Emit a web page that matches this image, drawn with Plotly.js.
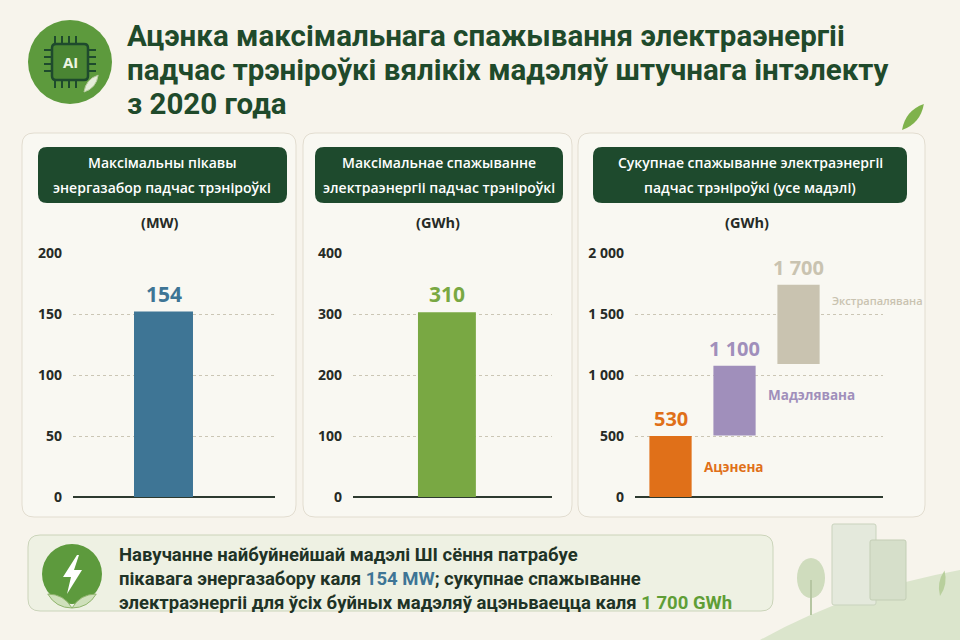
<!DOCTYPE html>
<html>
<head>
<meta charset="utf-8">
<script src="https://cdn.plot.ly/plotly-3.0.1.min.js"></script>
<style>
  html, body { margin: 0; padding: 0; background: #f7f4ec; }
  #chart { width: 960px; height: 640px; }
</style>
</head>
<body>
<div id="chart"></div>
<script>
// ---- data ----
const powerCats = ['Пікавы энергазабор'];
const powerValues = [152];
const powerLabels = ['154'];
const powerTicks = [0, 50, 100, 150, 200];

const energyCats = ['Спажыванне'];
const energyValues = [303];
const energyLabels = ['310'];
const energyTicks = [0, 100, 200, 300, 400];

const totalCats = ['Ацэнена', 'Мадэлявана', 'Экстрапалявана'];
const totalBase = [0, 505, 1090];
const totalTop = [500, 1075, 1740];
const totalLabels = ['530', '1 100', '1 700'];
const totalTicks = [0, 500, 1000, 1500, 2000];
const totalTickText = ['0', '500', '1 000', '1 500', '2 000'];

const titleLines = [
  'Ацэнка максімальнага спажывання электраэнергіі',
  'падчас трэніроўкі вялікіх мадэляў штучнага інтэлекту',
  'з 2020 года'
];
const panelHeads = [
  ['Максімальны пікавы', 'энергазабор падчас трэніроўкі'],
  ['Максімальнае спажыванне', 'электраэнергіі падчас трэніроўкі'],
  ['Сукупнае спажыванне электраэнергіі', 'падчас трэніроўкі (усе мадэлі)']
];
const panelUnits = ['(MW)', '(GWh)', '(GWh)'];

// ---- helpers: pixel -> paper ----
const W = 960, H = 640;
const px = x => x / W;
const py = y => 1 - y / H;

function rrect(x0, y0, x1, y1, r) {
  const p = (x, y) => px(x) + ',' + py(y);
  return 'M' + p(x0 + r, y0) + ' L' + p(x1 - r, y0) + ' Q' + p(x1, y0) + ' ' + p(x1, y0 + r) +
    ' L' + p(x1, y1 - r) + ' Q' + p(x1, y1) + ' ' + p(x1 - r, y1) +
    ' L' + p(x0 + r, y1) + ' Q' + p(x0, y1) + ' ' + p(x0, y1 - r) +
    ' L' + p(x0, y0 + r) + ' Q' + p(x0, y0) + ' ' + p(x0 + r, y0) + ' Z';
}
function poly(pts) {
  return 'M' + pts.map(q => px(q[0]) + ',' + py(q[1])).join(' L') + ' Z';
}
function leaf(cx, cy, len, wid, ang) {
  // simple leaf: two quadratic curves
  const a = ang * Math.PI / 180;
  const tx = cx + Math.cos(a) * len, ty = cy - Math.sin(a) * len;
  const nx = -Math.sin(a) * wid, ny = -Math.cos(a) * wid;
  const mx = (cx + tx) / 2, my = (cy + ty) / 2;
  const p = (x, y) => px(x) + ',' + py(y);
  return 'M' + p(cx, cy) + ' Q' + p(mx + nx, my + ny) + ' ' + p(tx, ty) +
    ' Q' + p(mx - nx, my - ny) + ' ' + p(cx, cy) + ' Z';
}

const DARK = '#1e4a2d';
const TXT = '#262b26';
const ORANGE = '#e07019', PURPLE = '#a08fbb', BEIGE = '#c9c3b0';
const BLUE = '#3e7595', GREEN = '#79a843';
const FONT = 'Open Sans, sans-serif';
const COND = 'Roboto, sans-serif';

// ---- traces ----
const traces = [
  {
    type: 'bar', x: [0], y: powerValues, width: 0.292, name: powerCats[0],
    marker: { color: BLUE }, xaxis: 'x', yaxis: 'y', hoverinfo: 'y'
  },
  {
    type: 'bar', x: [0], y: energyValues, width: 0.291, name: energyCats[0],
    marker: { color: GREEN }, xaxis: 'x2', yaxis: 'y2', hoverinfo: 'y'
  },
  {
    type: 'bar', x: totalCats.map((c, i) => i),
    y: totalTop.map((t, i) => t - totalBase[i]), base: totalBase,
    width: 0.66, text: totalCats, textposition: 'none',
    marker: { color: [ORANGE, PURPLE, BEIGE] }, xaxis: 'x3', yaxis: 'y3', hoverinfo: 'text+y'
  }
];

function yax(domain, range, vals, text) {
  return {
    domain: domain, range: range, tickvals: vals, ticktext: text || vals.map(String),
    showgrid: true, gridcolor: '#cbc6b5', griddash: 'dot', gridwidth: 1,
    zeroline: true, zerolinecolor: '#2d3a2f', zerolinewidth: 2,
    showline: false, ticks: '', ticklabelstandoff: 10, fixedrange: true,
    tickfont: { family: FONT, size: 14, color: TXT, weight: 700 }
  };
}
function xax(domain, range, anchor) {
  return {
    domain: domain, range: range, anchor: anchor, visible: false, fixedrange: true
  };
}
const yDom = [py(497), py(253)];

// ---- annotations ----
const ann = [];
titleLines.forEach((t, i) => ann.push({
  xref: 'paper', yref: 'paper', x: px(125), y: py(36 + i * 34), xanchor: 'left', yanchor: 'middle',
  text: t, showarrow: false, font: { family: COND, size: 29.5, color: '#1f4a2b', weight: 700 }
}));
const headCx = [162, 439, 750];
panelHeads.forEach((lines, k) => {
  lines.forEach((t, i) => ann.push({
    xref: 'paper', yref: 'paper', x: px(headCx[k]), y: py(163 + i * 24), xanchor: 'center', yanchor: 'middle',
    text: t, showarrow: false, font: { family: FONT, size: 14, color: '#ffffff', weight: 600 }
  }));
});
const unitCx = [160, 438, 747];
panelUnits.forEach((t, k) => ann.push({
  xref: 'paper', yref: 'paper', x: px(unitCx[k]), y: py(222), xanchor: 'center', yanchor: 'middle',
  text: t, showarrow: false, font: { family: FONT, size: 14.5, color: TXT, weight: 700 }
}));
// value labels
ann.push({ xref: 'x', yref: 'y', x: 0, y: powerValues[0], yanchor: 'bottom', yshift: 2,
  text: powerLabels[0], showarrow: false, font: { family: FONT, size: 21, color: BLUE, weight: 700 } });
ann.push({ xref: 'x2', yref: 'y2', x: 0, y: energyValues[0], yanchor: 'bottom', yshift: 2,
  text: energyLabels[0], showarrow: false, font: { family: FONT, size: 21, color: GREEN, weight: 700 } });
const totColors = [ORANGE, PURPLE, BEIGE];
const catShift = [0, 6, 24];
const catSize = [13.5, 13.5, 11];
const catWeight = [700, 700, 600];
totalCats.forEach((c, i) => {
  ann.push({ xref: 'x3', yref: 'y3', x: i, y: totalTop[i], yanchor: 'bottom', yshift: 2,
    text: totalLabels[i], showarrow: false, font: { family: FONT, size: 20, color: totColors[i], weight: 700 } });
  ann.push({ xref: 'x3', yref: 'y3', x: i + 0.33, y: (totalBase[i] + totalTop[i]) / 2,
    xanchor: 'left', yanchor: 'middle', xshift: 10, yshift: catShift[i],
    text: c, showarrow: false, font: { family: FONT, size: catSize[i], color: totColors[i], weight: catWeight[i] } });
});
// callout text
const callLines = [
  'Навучанне найбуйнейшай мадэлі ШІ сёння патрабуе',
  'пікавага энергазабору каля <span style="color:' + BLUE + '">' + powerLabels[0] + ' MW</span>; сукупнае спажыванне',
  'электраэнергіі для ўсіх буйных мадэляў ацэньваецца каля <span style="color:#5f9e36">' + totalLabels[2] + ' GWh</span>'
];
callLines.forEach((t, i) => ann.push({
  xref: 'paper', yref: 'paper', x: px(117), y: py(555 + i * 24), xanchor: 'left', yanchor: 'middle',
  text: t, showarrow: false, font: { family: COND, size: 18.5, color: '#1f3326', weight: 700 }
}));
// AI text in icon
ann.push({ xref: 'paper', yref: 'paper', x: px(70), y: py(62), xanchor: 'center', yanchor: 'middle',
  text: 'AI', showarrow: false, font: { family: FONT, size: 15, color: '#eef5e4', weight: 700 } });

// ---- decorative shapes ----
const shapes = [];
const panelsX = [[22, 296], [303, 572], [578, 925]];
panelsX.forEach(p => shapes.push({ type: 'path', xref: 'paper', yref: 'paper', layer: 'below',
  path: rrect(p[0], 133, p[1], 517, 12), fillcolor: '#f9f8f2', line: { color: '#e2ddd0', width: 1 } }));
const headX = [[38, 287], [315, 563], [593, 907]];
headX.forEach(p => shapes.push({ type: 'path', xref: 'paper', yref: 'paper', layer: 'below',
  path: rrect(p[0], 147, p[1], 203, 9), fillcolor: DARK, line: { width: 0 } }));
// callout box
shapes.push({ type: 'path', xref: 'paper', yref: 'paper', layer: 'below',
  path: rrect(28, 535, 773, 611, 12), fillcolor: '#eef1e3', line: { color: '#cbd4ba', width: 1 } });
// title icon
shapes.push({ type: 'circle', xref: 'paper', yref: 'paper', layer: 'below',
  x0: px(28), x1: px(112), y0: py(104), y1: py(20), fillcolor: '#5d9a3d', line: { width: 0 } });
shapes.push({ type: 'path', xref: 'paper', yref: 'paper', layer: 'below',
  path: rrect(52, 44, 88, 80, 4), fillcolor: '#4a8533', line: { color: '#1e4a2d', width: 2.5 } });
[50, 57, 64, 71].forEach(o => {
  shapes.push({ type: 'line', xref: 'paper', yref: 'paper', layer: 'below', x0: px(44), x1: px(52), y0: py(o), y1: py(o), line: { color: '#1e4a2d', width: 2 } });
  shapes.push({ type: 'line', xref: 'paper', yref: 'paper', layer: 'below', x0: px(88), x1: px(96), y0: py(o), y1: py(o), line: { color: '#1e4a2d', width: 2 } });
});
[58, 65, 72, 79].forEach(o => {
  shapes.push({ type: 'line', xref: 'paper', yref: 'paper', layer: 'below', x0: px(o - 3), x1: px(o - 3), y0: py(36), y1: py(44), line: { color: '#1e4a2d', width: 2 } });
  shapes.push({ type: 'line', xref: 'paper', yref: 'paper', layer: 'below', x0: px(o - 3), x1: px(o - 3), y0: py(80), y1: py(88), line: { color: '#1e4a2d', width: 2 } });
});
shapes.push({ type: 'path', xref: 'paper', yref: 'paper', path: leaf(84, 92, 22, 7, 50), fillcolor: '#e6eedb', line: { color: '#b8cca0', width: 1 } });
// top-right leaf
shapes.push({ type: 'path', xref: 'paper', yref: 'paper', layer: 'below', path: leaf(902, 130, 34, 10, 50), fillcolor: '#7fb24c', line: { width: 0 } });
// callout icon
shapes.push({ type: 'circle', xref: 'paper', yref: 'paper', layer: 'below',
  x0: px(42), x1: px(102), y0: py(604), y1: py(544), fillcolor: '#5d9a3d', line: { width: 0 } });
shapes.push({ type: 'path', xref: 'paper', yref: 'paper',
  path: poly([[77, 555], [63, 577], [71, 577], [67, 594], [82, 570], [74, 570], [79, 555]]), fillcolor: '#ffffff', line: { width: 0 } });
shapes.push({ type: 'path', xref: 'paper', yref: 'paper', path: leaf(72, 608, 28, 8, 150), fillcolor: '#cfe0bb', line: { color: '#8fb46c', width: 1 } });
shapes.push({ type: 'path', xref: 'paper', yref: 'paper', path: leaf(72, 608, 28, 8, 30), fillcolor: '#cfe0bb', line: { color: '#8fb46c', width: 1 } });
// bottom-right scenery
shapes.push({ type: 'path', xref: 'paper', yref: 'paper', layer: 'below',
  path: 'M' + px(760) + ',' + py(640) + ' Q' + px(850) + ',' + py(590) + ' ' + px(960) + ',' + py(570) + ' L' + px(960) + ',' + py(640) + ' Z',
  fillcolor: '#dbe5cc', line: { width: 0 } });
shapes.push({ type: 'path', xref: 'paper', yref: 'paper', layer: 'below', path: rrect(832, 524, 876, 605, 2), fillcolor: '#e4e9dc', line: { color: '#c9d3bd', width: 1 } });
shapes.push({ type: 'path', xref: 'paper', yref: 'paper', layer: 'below', path: rrect(870, 540, 906, 600, 2), fillcolor: '#d6dfca', line: { color: '#c3ceb5', width: 1 } });
shapes.push({ type: 'circle', xref: 'paper', yref: 'paper', layer: 'below', x0: px(797), x1: px(825), y0: py(598), y1: py(558), fillcolor: '#cfdcbd', line: { width: 0 } });
shapes.push({ type: 'line', xref: 'paper', yref: 'paper', layer: 'below', x0: px(811), x1: px(811), y0: py(615), y1: py(580), line: { color: '#b6c6a2', width: 2 } });
shapes.push({ type: 'path', xref: 'paper', yref: 'paper', layer: 'below', path: leaf(940, 596, 26, 6, 80), fillcolor: '#b8cf9c', line: { width: 0 } });

const layout = {
  width: W, height: H,
  margin: { l: 0, r: 0, t: 0, b: 0 },
  paper_bgcolor: '#f7f4ec', plot_bgcolor: 'rgba(0,0,0,0)',
  showlegend: false,
  font: { family: FONT, color: TXT },
  xaxis: xax([px(73), px(275)], [-0.448, 0.552], 'y'),
  yaxis: yax(yDom, [0, 200], powerTicks),
  xaxis2: xax([px(353), px(552)], [-0.472, 0.528], 'y2'),
  yaxis2: Object.assign(yax(yDom, [0, 400], energyTicks), { anchor: 'x2' }),
  xaxis3: xax([px(635), px(883)], [-0.555, 3.32], 'y3'),
  yaxis3: Object.assign(yax(yDom, [0, 2000], totalTicks, totalTickText), { anchor: 'x3' }),
  shapes: shapes,
  annotations: ann
};

Plotly.newPlot('chart', traces, layout, { displayModeBar: false, staticPlot: true });
</script>
</body>
</html>
